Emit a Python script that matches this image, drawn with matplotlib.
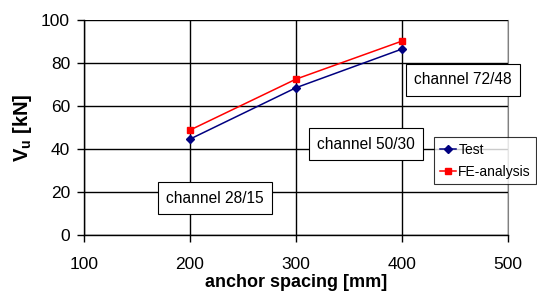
import matplotlib
matplotlib.use("Agg")
import matplotlib.pyplot as plt

plt.rcParams['font.family'] = ['Liberation Sans', 'DejaVu Sans']

spacing = [200, 300, 400]
test = [44.6, 68.5, 86.5]
fe = [48.8, 72.5, 90.2]
channels = ['channel 28/15', 'channel 50/30', 'channel 72/48']
label_pos = [(223.6, 17.2), (366, 42.3), (457.5, 72.1)]

fig = plt.figure(figsize=(5.37, 3.0), dpi=100)
ax = fig.add_axes([84 / 537, 65 / 300, 424 / 537, 215 / 300])

ax.plot(spacing, test, color='#000080', marker='D', markersize=4, lw=1.1, label='Test')
ax.plot(spacing, fe, color='#ff0000', marker='s', markersize=5, lw=1.1, label='FE-analysis')

ax.set_xlim(100, 500)
ax.set_ylim(0, 100)
ax.set_xticks([100, 200, 300, 400, 500])
ax.set_yticks([0, 20, 40, 60, 80, 100])
ax.grid(True, color='black', lw=1.0)
ax.set_axisbelow(True)
ax.tick_params(direction='out', length=5, width=1, labelsize=12.5)
ax.tick_params(axis='x', pad=11)
ax.tick_params(axis='y', pad=5)
ax.spines['top'].set_visible(False)
ax.spines['right'].set_color('#808080')
for s in ['left', 'bottom']:
    ax.spines[s].set_linewidth(1)

ax.set_xlabel('anchor spacing [mm]', fontsize=13, fontweight='bold', labelpad=1)
ax.set_ylabel('V$_\\mathregular{u}$ [kN]', fontsize=14.5, fontweight='bold', labelpad=5)

# boxed channel labels
for txt, (x, y) in zip(channels, label_pos):
    ax.text(x, y, txt, fontsize=11.2, ha='center', va='center', zorder=5,
            bbox=dict(boxstyle='square,pad=0.55', fc='white', ec='black', lw=0.8))

leg = fig.legend(loc='upper left', bbox_to_anchor=(434 / 537, 1 - 137 / 300),
                 fontsize=10, frameon=True, fancybox=False, edgecolor='black',
                 borderpad=0.4, borderaxespad=0, handlelength=1.2, handletextpad=0.15,
                 labelspacing=0.6)
leg.get_frame().set_linewidth(0.8)

fig.savefig('out.png', dpi=100)
